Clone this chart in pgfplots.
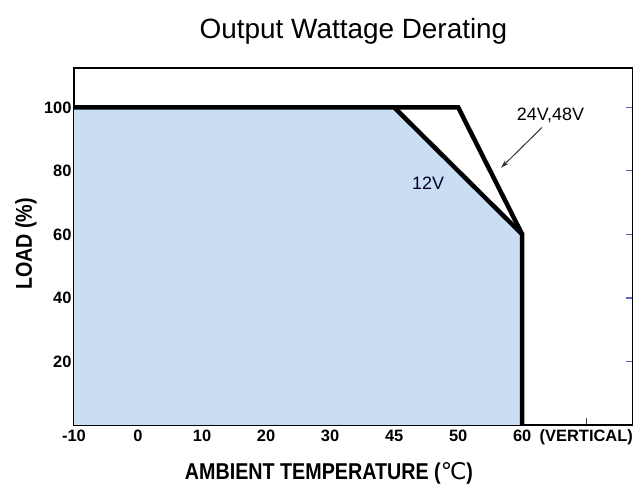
\documentclass[border=0pt]{standalone}
\usepackage{pgfplots}
\pgfplotsset{compat=1.18}
\usetikzlibrary{arrows.meta}
\usepackage{fontspec}
\setmainfont{Liberation Sans}
\newfontfamily\narrowfont[FakeStretch=0.86]{Liberation Sans}
\newfontfamily\symfont{DejaVu Sans}
\definecolor{fillblue}{RGB}{201,222,242}
\definecolor{tickblue}{RGB}{95,105,185}
\begin{document}
\begin{tikzpicture}[x=1bp,y=1bp]
\useasboundingbox (-74,-61) rectangle (559,425);
\begin{axis}[
  at={(0,0)}, anchor=south west,
  width=559bp, height=357bp, scale only axis,
  xmin=0, xmax=8.73, ymin=0, ymax=112.4,
  xtick={0,...,8},
  xticklabels={-10,0,10,20,30,45,50,60,(VERTICAL)},
  ytick={20,40,60,80,100},
  ytick pos=left, xtick pos=bottom,
  tick align=inside,
  major tick length=7bp,
  tick style={line width=1.2bp, color=black!75},
  /pgf/number format/assume math mode=true,
  ticklabel style={font=\bfseries\fontsize{16.5}{18}\selectfont},
  yticklabel style={xshift=1bp},
  xticklabel style={yshift=-1.5bp},
  axis line style={line width=1.5bp},
]
\addplot[fill=fillblue, draw=none] coordinates {(0,0) (0,100) (5,100) (7,60) (7,0)} -- cycle;
\addplot[black, line width=4.5bp, line join=miter] coordinates {(0,100) (6,100) (7,60)};
\addplot[black, line width=4.5bp, line join=miter] coordinates {(5,100) (7,60) (7,0)};
\draw[-{Stealth[length=8bp,width=5bp]}, line width=1bp, black!80] (axis cs:7.31,93.7) -- (axis cs:6.67,81);
\node[font=\fontsize{18}{20}\selectfont] at (axis cs:7.44,97.5) {24V,48V};
\node[font=\fontsize{18}{20}\selectfont, color=black!85!blue] at (axis cs:5.53,76) {12V};
\end{axis}
\begin{axis}[
  at={(0,0)}, anchor=south west,
  width=559bp, height=357bp, scale only axis,
  xmin=0, xmax=8.73, ymin=0, ymax=112.4,
  axis x line=none, axis y line*=right,
  ytick={20,40,60,80,100}, yticklabels={},
  tick align=inside, major tick length=7bp,
  tick style={line width=1.2bp, color=tickblue},
  axis line style={line width=1.5bp},
]
\end{axis}
\node[anchor=base, font=\fontsize{28}{31}\selectfont] at (279.5,386.5) {Output Wattage Derating};
\node[anchor=base, font=\narrowfont\bfseries\fontsize{23}{27}\selectfont] at (255,-55) {AMBIENT TEMPERATURE ({\symfont\mdseries ℃})};
\node[rotate=90, font=\narrowfont\bfseries\fontsize{23}{27}\selectfont] at (-48,181) {LOAD (\%)};
\end{tikzpicture}
\end{document}
